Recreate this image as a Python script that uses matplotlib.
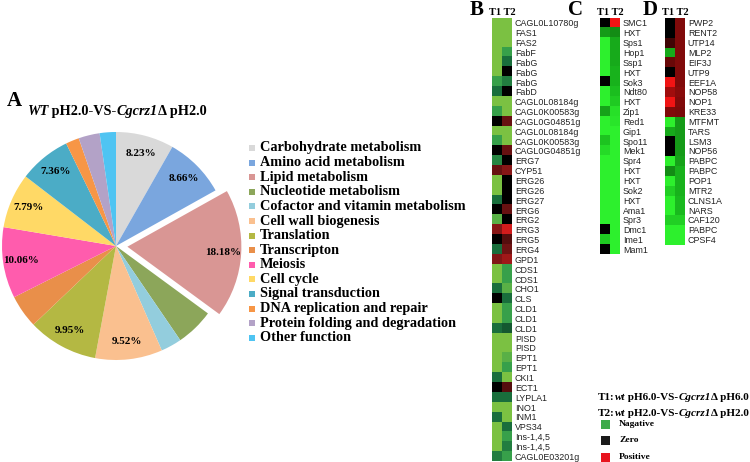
import numpy as np
import matplotlib
matplotlib.use("Agg")
import matplotlib.pyplot as plt
from matplotlib.colors import LinearSegmentedColormap
from matplotlib.patches import Rectangle

# ---------------- data ----------------
pie_categories = ["Carbohydrate metabolism", "Amino acid metabolism", "Lipid metabolism",
                  "Nucleotide metabolism", "Cofactor and vitamin metabolism", "Cell wall biogenesis",
                  "Translation", "Transcripton", "Meiosis", "Cell cycle", "Signal transduction",
                  "DNA replication and repair", "Protein folding and degradation", "Other function"]
pie_values = [8.23, 8.66, 18.18, 5.4, 2.95, 9.52, 9.95, 4.7, 10.06, 7.79, 7.36, 1.9, 3.0, 2.3]
pie_labels = ["8.23%", "8.66%", "18.18%", "", "", "9.52%", "9.95%", "", "10.06%", "7.79%", "7.36%", "", "", ""]
pie_colors = ["#D9D9D9", "#7AA6DE", "#D99694", "#8CA65A", "#93CDDD", "#FAC08F", "#B4B843",
              "#E98F4A", "#FF5CAD", "#FFD966", "#4BACC6", "#F79646", "#B3A2C7", "#4FC4F2"]

b_genes = ["CAGL0L10780g", "FAS1", "FAS2", "FabF", "FabG", "FabG", "FabG", "FabD", "CAGL0L08184g",
           "CAGL0K00583g", "CAGL0G04851g", "CAGL0L08184g", "CAGL0K00583g", "CAGL0G04851g", "ERG7",
           "CYP51", "ERG26", "ERG26", "ERG27", "ERG6", "ERG2", "ERG3", "ERG5", "ERG4", "GPD1", "CDS1",
           "CDS1", "CHO1", "CLS", "CLD1", "CLD1", "CLD1", "PISD", "PISD", "EPT1", "EPT1", "CKI1", "ECT1",
           "LYPLA1", "INO1", "INM1", "VPS34", "Ins-1,4,5", "Ins-1,4,5", "CAGL0E03201g"]
b_t1 = [-3, -3, -3, -3, -3, -3, -2, -1, -3, -2, 0, -3, -2, 0, -1.5, 1.2, -3, -3, -1, 0, -2.5, 1.6, 0,
        -1, 1.5, -3, -3, -1, 0, -3, -3, -1, -3, -3, -3, -3, -1, 0, -1, -3, -1, -3, -3, -3, -1.3]
b_t2 = [-3, -3, -3, -2, -1, 0, -1.3, 0, -3, -3, 1.2, -3, -3, 1.2, 0, 1.6, 0, 0, 0, 1.2, 0, 2.8, 1.0,
        1.3, 2.0, -2, -2, -2.5, -1, -2, -2, -0.8, -3, -3, -2.5, -2, -3, 1.0, -1, -3, -3, -1, -2, -1.3, -2]

c_genes = ["SMC1", "HXT", "Sps1", "Hop1", "Ssp1", "HXT", "Sok3", "Ndt80", "HXT", "Zip1", "Red1", "Gip1",
           "Spo11", "Mek1", "Spr4", "HXT", "HXT", "Sok2", "HXT", "Ama1", "Spr3", "Dmc1", "Ime1", "Mam1"]
c_t1 = [0, -1.6, -3, -3, -3, -3, 0, -3, -3, -1.7, -3, -3, -2.2, -2.6, -3, -3, -3, -3, -3, -3, -3, 0, -2.3, 0]
c_t2 = [3, -1.4, -1.8, -1.8, -1.8, -1.9, -1.9, -2.1, -2.3, -2.7, -2.8, -3, -3, -3, -3, -3, -3, -3, -3,
        -3, -3, -3, -3, -3]

d_genes = ["PWP2", "RENT2", "UTP14", "MLP2", "EIF3J", "UTP9", "EEF1A", "NOP58", "NOP1", "KRE33", "MTFMT",
           "TARS", "LSM3", "NOP56", "PABPC", "PABPC", "POP1", "MTR2", "CLNS1A", "NARS", "CAF120",
           "PABPC", "CPSF4"]
d_t1 = [0, 0, 0.8, -1.8, 1.3, 0, 3, 2.0, 3, 1.6, -3, -1.8, 0, 0, -3, -1.4, -3, -2.4, -3, -3, -2.4, -3, -3]
d_t2 = [1.6, 1.6, 1.6, 1.6, 1.6, 1.6, 1.6, 1.7, 1.6, 1.5, -1.6, -1.6, -1.6, -1.6, -1.7, -1.9, -1.9, -1.9,
        -2.0, -2.0, -2.4, -3, -3]

legend_names = ["Nagative", "Zero", "Positive"]
legend_colors = ["#3DAA4A", "#1A1A1A", "#E8141E"]

# ---------------- figure ----------------
W, H = 750, 462
fig = plt.figure(figsize=(W / 100, H / 100), dpi=100)
SERIF = "Liberation Serif"
SANS = "Liberation Sans"


def px_axes(x0, y0, x1, y1):
    return fig.add_axes([x0 / W, 1 - y1 / H, (x1 - x0) / W, (y1 - y0) / H])


ax0 = px_axes(0, 0, W, H)
ax0.set_xlim(0, W)
ax0.set_ylim(H, 0)
ax0.axis("off")


def rich(x, y, parts, size):
    prev = None
    for txt, style in parts:
        kw = dict(fontsize=size, fontweight="bold", fontstyle=style, family=SERIF,
                  va="baseline", ha="left", color="black")
        if prev is None:
            prev = ax0.text(x, y, txt, **kw)
        else:
            kw["va"] = "bottom"
            prev = ax0.annotate(txt, xy=(1, 0), xycoords=prev, **kw)
    return prev


# ---- panel A: pie ----
cx, cy, r = 116, 246, 114
axp = px_axes(cx - r, cy - r, cx + r, cy + r)
explode = [0.1 if c == "Lipid metabolism" else 0 for c in pie_categories]
wedges, texts = axp.pie(pie_values, colors=pie_colors, startangle=90, counterclock=False,
                        explode=explode, labels=pie_labels, labeldistance=0.84,
                        textprops=dict(fontsize=8, fontweight="bold", family=SERIF),
                        wedgeprops=dict(linewidth=0))
for w in wedges:
    w.set_clip_on(False)
for t in texts:
    t.set_ha("center")
    t.set_va("center")
axp.set_xlim(-1, 1)
axp.set_ylim(-1, 1)
axp.set_aspect("equal")
axp.axis("off")

ax0.text(7, 106, "A", fontsize=15, fontweight="bold", family=SERIF, va="baseline", ha="left")
rich(27, 115, [("WT", "italic"), (" pH2.0-VS-", "normal"), ("Cgcrz1", "italic"), ("\u0394 pH2.0", "normal")], 10.3)

# legend for pie
for i, (cat, col) in enumerate(zip(pie_categories, pie_colors)):
    yy = 148 + i * 14.6
    ax0.add_patch(Rectangle((249, yy - 3), 6, 6, color=col, lw=0))
    ax0.text(260, yy, cat, fontsize=10.3, fontweight="bold", family=SERIF, va="center", ha="left")

# ---- heatmaps ----
RH = 9.85
TOP = 18


def make_cmap(name, nodes):
    return LinearSegmentedColormap.from_list(name, [((v + 3) / 6, c) for v, c in nodes])


cmap_b = make_cmap("b", [(-3, "#7BC142"), (-2, "#37A04B"), (-1, "#196E3C"), (0, "#000000"),
                         (1.5, "#801616"), (3, "#E01E1E")])
cmap_cd = make_cmap("cd", [(-3, "#2DF02D"), (-2, "#19B91E"), (-1, "#0F6E0F"), (0, "#000000"),
                           (3, "#F01414")])


def heat(x0, genes, t1, t2, cmap, letter, letter_x):
    n = len(genes)
    ax = px_axes(x0, TOP, x0 + 20, TOP + n * RH)
    ax.imshow(np.column_stack([t1, t2]), cmap=cmap, vmin=-3, vmax=3, aspect="auto",
              interpolation="nearest")
    ax.set_xticks([])
    ax.set_yticks(range(n))
    ax.set_yticklabels(genes, family=SANS, fontsize=6.4, color="#222222")
    ax.yaxis.tick_right()
    ax.tick_params(axis="y", length=0, pad=2)
    for s in ax.spines.values():
        s.set_visible(False)
    ax0.text(x0 + 10, 15, "T1 T2", fontsize=7.5, fontweight="bold", family=SERIF,
             ha="center", va="baseline")
    ax0.text(letter_x, 15, letter, fontsize=15, fontweight="bold", family=SERIF,
             ha="left", va="baseline")


heat(492, b_genes, b_t1, b_t2, cmap_b, "B", 470)
heat(600, c_genes, c_t1, c_t2, cmap_cd, "C", 568)
heat(665, d_genes, d_t1, d_t2, cmap_cd, "D", 643)

# ---- bottom legend ----
rich(598, 400, [("T1:", "normal"), ("wt", "italic"), (" pH6.0-VS-", "normal"), ("Cgcrz1", "italic"),
                ("\u0394 pH6.0", "normal")], 8)
rich(598, 416, [("T2:", "normal"), ("wt", "italic"), (" pH2.0-VS-", "normal"), ("Cgcrz1", "italic"),
                ("\u0394 pH2.0", "normal")], 8)
for i, (nm, col) in enumerate(zip(legend_names, legend_colors)):
    yy = 424 + i * 16.5
    ax0.add_patch(Rectangle((601, yy - 4.5), 9, 9, color=col, lw=0))
    ax0.text(619, yy, nm, fontsize=6.8, fontweight="bold", family=SERIF, va="center", ha="left")

fig.savefig("out.png", dpi=100)
